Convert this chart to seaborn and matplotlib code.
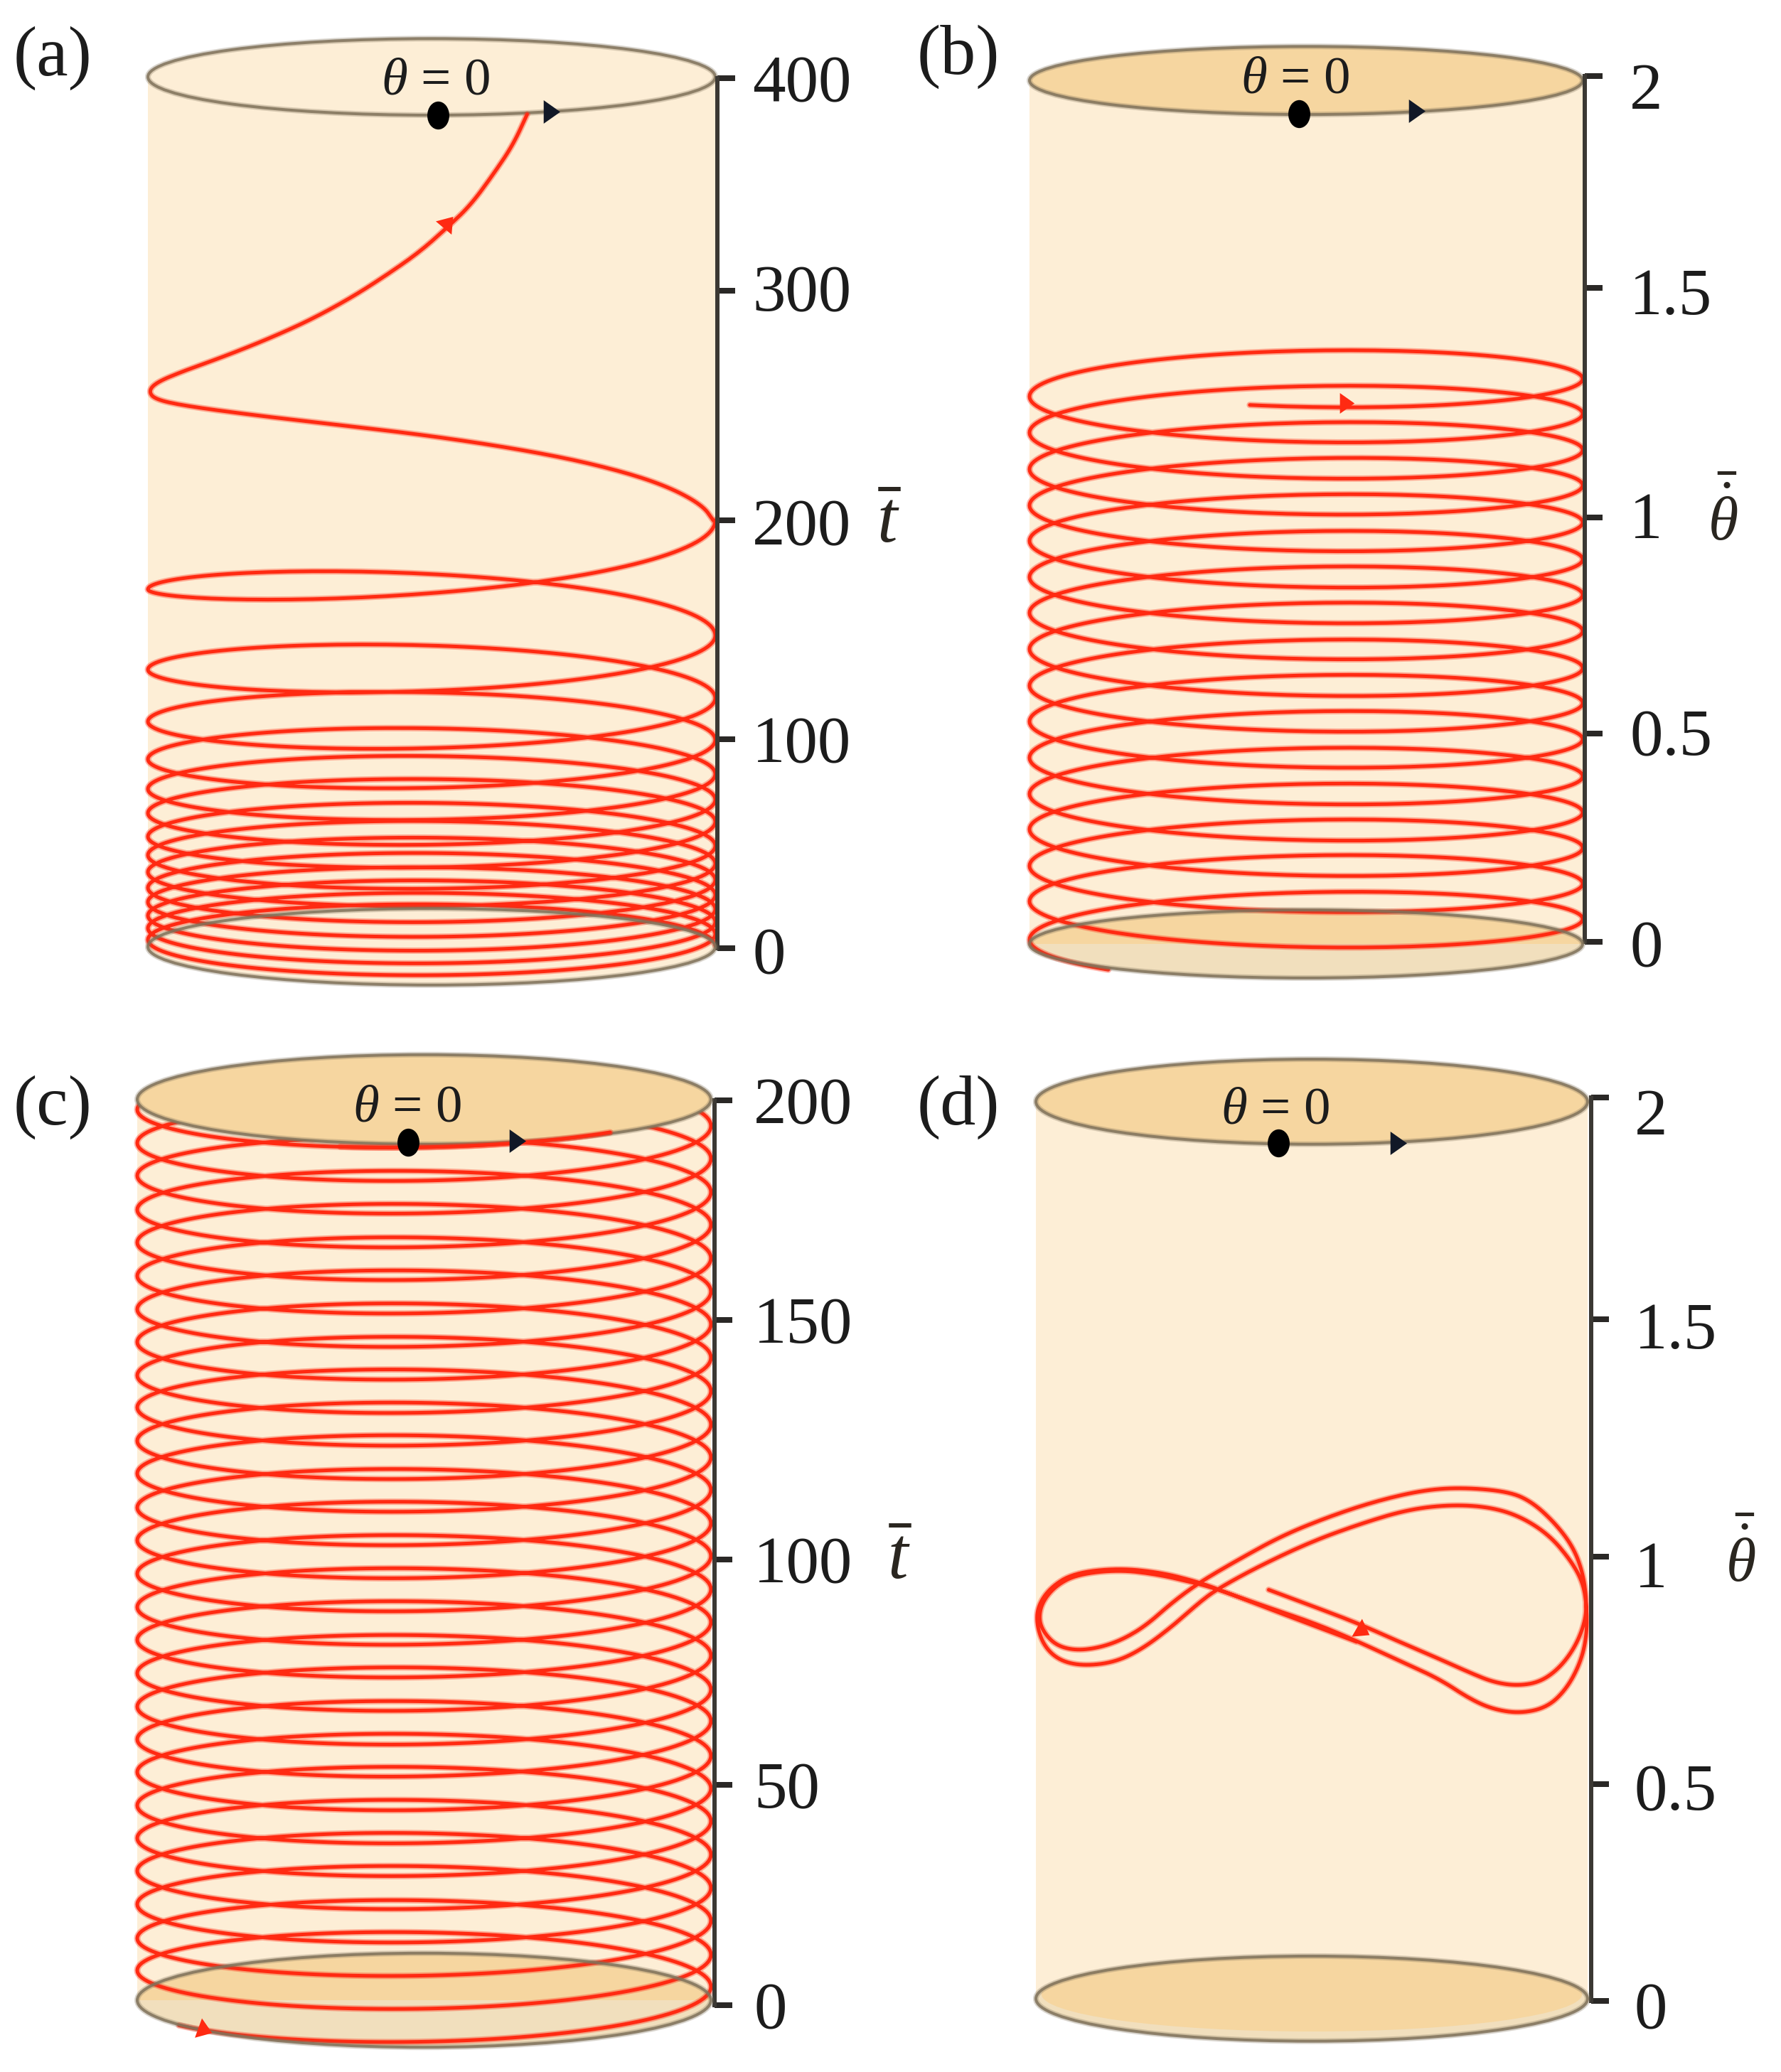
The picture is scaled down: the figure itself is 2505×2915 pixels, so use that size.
import numpy as np
import seaborn as sns
import matplotlib.pyplot as plt
from matplotlib.markers import MarkerStyle
from matplotlib.patches import Ellipse, Rectangle
from matplotlib.transforms import Affine2D, ScaledTranslation

W, H = 2505, 2915

##### VALUES

# (a) first stretch of the curve, from the top ring down to the right edge
A_TOP_X = [0.337, 0.287, 0.218, 0.138, 0.058, -0.042, -0.162, -0.282, -0.422, -0.562, -0.722, -0.882, -0.972,
           -0.998, -0.972, -0.862, -0.622, -0.322, -0.022, 0.277, 0.517, 0.717, 0.857, 0.957, 0.993]
A_TOP_T = [383.4, 369.3, 355.9, 341.7, 331.7, 320.1, 309.2, 299.2, 289.2, 280.9, 272.5, 265.0, 260.0,
           255.9, 252.2, 249.2, 245.0, 240.5, 235.9, 230.1, 224.2, 217.5, 210.8, 203.3, 196.7]
# (a) height at each turn, right and left edge in turn
A_TURNS = [196.7, 165.0, 143.8, 128.1, 115.0, 104.2, 95.8, 86.9, 80.1, 73.2, 68.3, 62.1, 58.2, 51.3, 47.1,
           42.8, 38.9, 35.0, 31.4, 27.8, 24.5, 21.2, 18.0, 15.0, 12.1, 9.2, 6.5, 3.9, 1.3]
A_TICKS = [0, 96, 196.7, 302.3, 400]
A_LABELS = ['0', '100', '200', '300', '400']

# (b) height at each turn, first one lies before the start of the curve
B_TURNS = [1.347, 1.306, 1.265, 1.225, 1.181, 1.141, 1.096, 1.059, 1.012, 0.973, 0.930, 0.887, 0.846, 0.805,
           0.763, 0.721, 0.679, 0.635, 0.594, 0.554, 0.511, 0.470, 0.427, 0.384, 0.343, 0.300, 0.261, 0.218,
           0.176, 0.135, 0.094, 0.053, 0.005, -0.035]
B_TICKS = [0, 0.483, 0.984, 1.517, 2.008]
B_LABELS = ['0', '0.5', '1', '1.5', '2']

# (c) height at each turn, from the bottom up
C_TURNS = [0.16, 4.08, 7.70, 11.15, 14.77, 18.70, 22.31, 25.92, 29.69, 33.31, 36.92, 40.69, 44.15, 47.92,
           51.53, 55.15, 58.76, 62.84, 65.99, 69.76, 73.37, 77.30, 80.75, 84.68, 87.98, 91.91, 95.37, 99.29,
           102.75, 106.52, 109.98, 113.90, 117.52, 121.13, 124.74, 128.36, 132.13, 135.74, 139.20, 143.13,
           146.58, 150.51, 153.81, 157.74, 161.19, 165.12, 168.58, 172.51, 175.81, 179.73, 183.35, 187.12,
           190.57, 194.34, 197.96, 201.73]
C_TICKS = [0, 48.7, 98.5, 151.4, 200]
C_LABELS = ['0', '50', '100', '150', '200']

# (d) the figure-of-eight orbit
D_X = [-0.156, 0.007, 0.163, 0.318, 0.460, 0.573, 0.658, 0.743, 0.827, 0.898, 0.955, 0.990, 0.997, 0.983, 0.948,
       0.884, 0.799, 0.714, 0.545, 0.403, 0.233, 0.064, -0.106, -0.262, -0.403, -0.502, -0.601, -0.686, -0.771,
       -0.856, -0.926, -0.972, -0.990, -0.976, -0.926, -0.849, -0.700, -0.559, -0.431, -0.361, -0.191, 0.007,
       0.163, 0.318, 0.460, 0.573, 0.658, 0.757, 0.856, 0.926, 0.976, 0.997, 0.997, 0.983, 0.941, 0.863, 0.757,
       0.644, 0.502, 0.347, 0.177, -0.007, -0.191, -0.318, -0.389, -0.502, -0.615, -0.714, -0.827, -0.912,
       -0.969, -0.997, -0.994, -0.948, -0.863, -0.700, -0.545, -0.417, -0.347, -0.177, 0.007, 0.163]
D_Y = [0.908, 0.871, 0.835, 0.793, 0.756, 0.725, 0.704, 0.696, 0.704, 0.735, 0.782, 0.835, 0.882, 0.945, 1.002,
       1.054, 1.102, 1.125, 1.134, 1.128, 1.104, 1.070, 1.028, 0.976, 0.926, 0.882, 0.829, 0.798, 0.780,
       0.774, 0.785, 0.814, 0.845, 0.882, 0.918, 0.942, 0.952, 0.942, 0.924, 0.913, 0.876, 0.835,
       0.795, 0.751, 0.712, 0.667, 0.644, 0.635, 0.649, 0.691, 0.750, 0.808, 0.871, 0.924, 0.971, 1.028, 1.070,
       1.091, 1.096, 1.085, 1.054, 1.013, 0.960, 0.918, 0.890, 0.829, 0.777, 0.748, 0.740, 0.751,
       0.782, 0.829, 0.871, 0.913, 0.945, 0.956, 0.946, 0.926, 0.911, 0.871, 0.829, 0.793]
D_TICKS = [0, 0.479, 0.981, 1.505, 1.995]
D_LABELS = ['0', '0.5', '1', '1.5', '2']

##### STYLE
sns.set_theme(style='white')
plt.rcParams['font.family'] = ['Liberation Serif', 'DejaVu Serif']
plt.rcParams['mathtext.fontset'] = 'custom'
plt.rcParams['mathtext.rm'] = 'Liberation Serif'
plt.rcParams['mathtext.it'] = 'Liberation Serif:italic'
plt.rcParams['mathtext.bf'] = 'Liberation Serif:bold'

BODY = '#FDEED6'
TAN = '#F6D6A0'
LOWER = '#F1DFBD'
RED = '#FF2A12'
EDGE = '#80725A'
INK = '#3B3833'
PX = 72 / 100

# the dot on the ring is a tall oval
DOT = MarkerStyle('o', transform=Affine2D().scale(0.88, 1.12))


def arrow(angle):
    #squat triangle, wider across the base than it is long, angle counted from pointing right
    return MarkerStyle((3, 0, 0), transform=Affine2D().scale(1.1, 0.9).rotate_deg(angle - 90))


def smooth(x, y, n=3):
    #corner cutting so the read points do not show as kinks
    p = np.column_stack([x, y])
    for _ in range(n):
        q = 0.75 * p[:-1] + 0.25 * p[1:]
        r = 0.25 * p[:-1] + 0.75 * p[1:]
        mid = np.empty((2 * len(q), 2))
        mid[0::2] = q
        mid[1::2] = r
        p = np.vstack([p[0], mid, p[-1]])
    return p[:, 0], p[:, 1]


def helix(turns, b, first_side, first_front=True, start_x=None, end_x=None):
    #a curve wound on the cylinder: each half turn runs between two read heights
    xs, ys = [], []
    front = first_front
    last = len(turns) - 2
    for i in range(last + 1):
        u = np.linspace(0, 1, 70)
        side = first_side * (-1) ** i
        x = side * np.cos(np.pi * u)
        y = turns[i] + (turns[i + 1] - turns[i]) * u + (-b if front else b) * np.sin(np.pi * u)
        keep = np.ones_like(u, dtype=bool)
        if i == 0 and start_x is not None:
            keep &= side * x <= side * start_x
        if i == last and end_x is not None:
            keep &= side * x >= side * end_x
        xs.append(x[keep])
        ys.append(y[keep])
        front = not front
    return np.concatenate(xs), np.concatenate(ys)


def make_panel(fig, left, right, spine, top_px, bottom_px, ymax, ticks, labels, pad, label_drops):
    ppu = (bottom_px - top_px) / ymax
    half = (right - left) / 2
    m = 110
    ax = fig.add_axes([left / W, 1 - (bottom_px + m) / H, (spine - left) / W, (bottom_px - top_px + 2 * m) / H])
    ax.set_xlim(-1, 1 + (spine - right) / half)
    ax.set_ylim(-m / ppu, ymax + m / ppu)
    ax.patch.set_visible(False)
    for s in ['left', 'top', 'bottom']:
        ax.spines[s].set_visible(False)
    ax.spines['right'].set_bounds(ticks[0], ticks[-1])
    ax.spines['right'].set_linewidth(6 * PX)
    ax.spines['right'].set_color(INK)
    ax.set_xticks([])
    ax.yaxis.tick_right()
    ax.set_yticks(ticks)
    ax.set_yticklabels(labels)
    ax.tick_params(axis='y', length=25 * PX, width=8 * PX, color='#2a2826', pad=pad * PX,
                   labelsize=67, labelcolor='#1c1c1c', right=True)
    for lab, d in zip(ax.get_yticklabels(), label_drops):
        drop = ScaledTranslation(0, -d * PX / 72, fig.dpi_scale_trans)
        lab.set_transform(lab.get_transform() + drop)
    return ax


def ring(ax, t, b, fill, z=1.5, fill_lower=None):
    #fill first, outline later
    if fill_lower is None:
        ax.add_patch(Ellipse((0, t), 2, 2 * b, fc=fill, ec='none', zorder=z, clip_on=False))
    else:
        ax.add_patch(Ellipse((0, t), 2, 2 * b, fc=fill_lower, ec='none', zorder=z, clip_on=False))
        top = Ellipse((0, t), 2, 2 * b, fc=fill, ec='none', zorder=z, clip_on=False)
        ax.add_patch(top)
        top.set_clip_path(Rectangle((-1.1, t), 2.2, 3 * b, transform=ax.transData))
        top.set_clip_on(True)


def outline(ax, t, b, z):
    ax.add_patch(Ellipse((0, t), 2, 2 * b, fc='none', ec=EDGE, lw=8 * PX, alpha=0.3, zorder=z, clip_on=False))
    ax.add_patch(Ellipse((0, t), 2, 2 * b, fc='none', ec=EDGE, lw=4 * PX, alpha=0.85, zorder=z, clip_on=False))


def curve(ax, x, y, z=2, lw=5):
    #soft wide pass under the core, the lines in the picture are blurred
    sns.lineplot(x=x, y=y, sort=False, estimator=None, color=RED, linewidth=(lw + 4) * PX, alpha=0.35, ax=ax,
                 legend=False, zorder=z, clip_on=False, solid_joinstyle='round')
    sns.lineplot(x=x, y=y, sort=False, estimator=None, color=RED, linewidth=lw * PX, ax=ax, legend=False,
                 zorder=z, clip_on=False, solid_joinstyle='round')
    ax.set_xlabel('')
    ax.set_ylabel('')


def mark(ax, x, y, marker, s, color, z=6):
    sns.scatterplot(x=[x], y=[y], marker=marker, s=s, color=color, linewidth=0, ax=ax, legend=False,
                    zorder=z, clip_on=False)
    ax.set_xlabel('')
    ax.set_ylabel('')


def theta_note(fig, x, y):
    fig.text(x / W, 1 - y / H, r'$\theta$ = 0', fontsize=54, ha='center', va='center', color='#1c1c1c')


fig = plt.figure(figsize=(W / 100, H / 100), dpi=100, facecolor='white')

##### (a)
ax = make_panel(fig, 208, 1006, 1009, 110, 1334, 400, A_TICKS, A_LABELS, 24, [3, 0, 2, -4, 0])
lim = ax.get_xlim(), ax.get_ylim()
ax.add_patch(Rectangle((-1, 0.65), 2, 400, fc=BODY, ec='none', zorder=1))
ring(ax, 0.65, 17.6, BODY)
ring(ax, 400.6, 17.6, BODY, z=1.5)
x, y = smooth(A_TOP_X, A_TOP_T)
curve(ax, x, y)
x, y = helix(A_TURNS, 17.6, 1)
curve(ax, x, y)
outline(ax, 400.6, 17.6, 1.6)
outline(ax, 0.65, 17.6, 3)
mark(ax, 0.023, 383, DOT, 640, 'black')
mark(ax, 0.414, 384.5, arrow(0), 620, '#111827')
mark(ax, 0.052, 333, arrow(50), 480, RED)
ax.set_xlim(lim[0])
ax.set_ylim(lim[1])
theta_note(fig, 613, 115)

##### (b)
ax = make_panel(fig, 1448, 2226, 2229, 112, 1325, 2, B_TICKS, B_LABELS, 38, [2, -2, -4, 5, 13])
lim = ax.get_xlim(), ax.get_ylim()
ax.add_patch(Rectangle((-1, -0.005), 2, 2.003, fc=BODY, ec='none', zorder=1))
ring(ax, -0.005, 0.079, TAN, fill_lower=LOWER)
ring(ax, 1.998, 0.079, TAN)
x, y = helix(B_TURNS, 0.0857, -1, start_x=-0.23, end_x=-0.69)
curve(ax, x, y)
outline(ax, 1.998, 0.079, 1.6)
outline(ax, -0.005, 0.079, 3)
mark(ax, -0.025, 1.921, DOT, 640, 'black')
mark(ax, 0.39, 1.928, arrow(0), 620, '#111827')
mark(ax, 0.138, 1.25, arrow(0), 480, RED)
ax.set_xlim(lim[0])
ax.set_ylim(lim[1])
theta_note(fig, 1822, 113)

##### (c)
ax = make_panel(fig, 193, 1000, 1005, 1548, 2821, 200, C_TICKS, C_LABELS, 30, [0, 0, 0, 0, 0])
lim = ax.get_xlim(), ax.get_ylim()
ax.add_patch(Rectangle((-1, 1.1), 2, 199.1, fc=BODY, ec='none', zorder=1))
ring(ax, 1.1, 10.4, TAN, fill_lower=LOWER)
x, y = helix(C_TURNS, 10.2, -1, start_x=-0.87, end_x=0.67)
curve(ax, x, y)
ring(ax, 200.2, 9.9, TAN, z=3)
outline(ax, 200.2, 9.9, 3.1)
outline(ax, 1.1, 10.4, 3)
x, y = helix(C_TURNS[-2:], 10.2, -1, start_x=-0.3, end_x=0.67)
curve(ax, x, y, z=3.5)
mark(ax, -0.056, 190.7, DOT, 640, 'black')
mark(ax, 0.316, 191, arrow(0), 620, '#111827')
mark(ax, -0.772, -5.3, arrow(-20), 480, RED)
ax.set_xlim(lim[0])
ax.set_ylim(lim[1])
theta_note(fig, 573, 1560)

##### (d)
ax = make_panel(fig, 1457, 2233, 2238, 1541, 2815, 2, D_TICKS, D_LABELS, 36, [6, 4, 10, 8, 19])
lim = ax.get_xlim(), ax.get_ylim()
ax.add_patch(Rectangle((-1, 0.005), 2, 1.981, fc=BODY, ec='none', zorder=1))
ax.add_patch(Ellipse((0, 0.005), 2, 0.188, fc=LOWER, ec='none', zorder=1.4, clip_on=False))
ax.add_patch(Ellipse((0, 0.015), 1.96, 0.165, fc=TAN, ec='none', zorder=1.5, clip_on=False))
ring(ax, 1.986, 0.094, TAN)
x, y = smooth(D_X, D_Y)
curve(ax, x, y)
outline(ax, 1.986, 0.094, 1.6)
outline(ax, 0.005, 0.094, 3)
mark(ax, -0.121, 1.895, DOT, 640, 'black')
mark(ax, 0.305, 1.895, arrow(0), 620, '#111827')
mark(ax, 0.177, 0.82, arrow(-30), 480, RED)
ax.set_xlim(lim[0])
ax.set_ylim(lim[1])
theta_note(fig, 1794, 1563)

##### PANEL LETTERS AND AXIS NAMES
for txt, px, py in [('(a)', 74, 82), ('(b)', 1348, 80), ('(c)', 74, 1558), ('(d)', 1348, 1558)]:
    fig.text(px / W, 1 - py / H, txt, fontsize=72, ha='center', va='center', color='#1c1c1c')

for px, py in [(1251, 738), (1266, 2196)]:
    fig.text(px / W, 1 - py / H, r'$\bar{t}$', fontsize=74, ha='center', va='center', color='#2a2620')
for px, py in [(2423, 728), (2448, 2193)]:
    fig.text(px / W, 1 - py / H, r'$\bar{\dot{\theta}}$', fontsize=62, ha='center', va='center', color='#2a2620')

fig.savefig('out.png', dpi=100, facecolor='white')
